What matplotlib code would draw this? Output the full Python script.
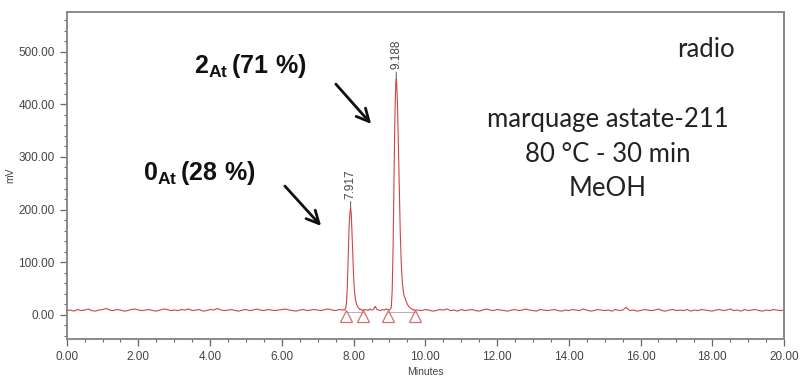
import numpy as np
import matplotlib
matplotlib.use("Agg")
import matplotlib.pyplot as plt
from matplotlib.ticker import MultipleLocator, FormatStrFormatter

# ---- chromatogram data (minutes, mV) ----
# baseline before the first peak, sampled every 0.1 min from 0.0 to 7.7
base_left = [8, 9, 7, 10, 8, 9, 11, 8, 7, 9, 10, 12, 9, 8, 10, 9, 7, 8, 10, 11,
             9, 8, 9, 10, 8, 7, 9, 11, 10, 8, 9, 8, 10, 9, 11, 8, 9, 10, 7, 8,
             10, 9, 12, 9, 8, 9, 10, 8, 7, 9, 10, 8, 9, 11, 9, 8, 10, 9, 8, 9,
             10, 11, 9, 8, 7, 9, 10, 8, 9, 10, 9, 8, 10, 11, 9, 8, 10, 9]

# first peak (7.917 min)
peak1_t = [7.725, 7.75, 7.775, 7.80, 7.825, 7.85, 7.875, 7.90, 7.917, 7.935,
           7.95, 7.975, 8.00, 8.025, 8.05, 8.075, 8.10, 8.125, 8.15, 8.175,
           8.20, 8.225, 8.25, 8.275]
peak1_v = [10, 9, 12, 22, 55, 115, 170, 196, 202, 192,
           165, 115, 72, 44, 30, 22, 17, 14, 12, 10,
           11, 9, 8, 10]

# between the two peaks, 8.30 .. 9.00 min
between_t = [8.30, 8.35, 8.40, 8.45, 8.50, 8.55, 8.60, 8.65, 8.70, 8.75, 8.80, 8.85, 8.90, 8.95, 9.00]
between_v = [9, 10, 8, 11, 9, 10, 16, 10, 9, 8, 10, 9, 11, 10, 9]

# second peak (9.188 min)
peak2_t = [9.025, 9.05, 9.075, 9.10, 9.125, 9.15, 9.175, 9.188, 9.20, 9.225,
           9.25, 9.275, 9.30, 9.325, 9.35, 9.375, 9.40, 9.425, 9.45, 9.475,
           9.50, 9.525, 9.55, 9.575, 9.60, 9.625, 9.65, 9.675, 9.70, 9.725, 9.75]
peak2_v = [11, 14, 45, 125, 255, 375, 440, 448, 442, 395,
           315, 228, 158, 104, 70, 50, 38, 33, 28, 24,
           20, 17, 15, 13, 12, 11, 10, 9, 10, 8, 9]

# baseline after the second peak, sampled every 0.1 min from 9.8 to 20.0
base_right = [9, 8, 10, 9, 7, 8, 10, 9, 11, 8, 9, 7, 10, 8, 9, 10, 8, 7, 9, 11,
              9, 8, 10, 9, 8, 7, 9, 10, 8, 9, 11, 9, 8, 7, 10, 9, 8, 9, 10, 8,
              7, 9, 8, 10, 9, 8, 11, 9, 7, 8, 10, 9, 8, 9, 7, 10, 8, 9, 14, 8,
              9, 7, 8, 10, 9, 8, 9, 11, 8, 7, 9, 10, 8, 9, 8, 10, 7, 9, 8, 10,
              9, 8, 7, 9, 10, 8, 9, 11, 8, 9, 7, 10, 8, 9, 10, 8, 7, 9, 8, 10,
              9, 8, 9]

peak_times = [7.917, 9.188]
peak_heights = [202, 448]
integration_marks = [7.78, 8.27, 8.97, 9.71]

t_all = np.concatenate([np.linspace(0.0, 7.7, len(base_left)), peak1_t, between_t,
                        peak2_t, np.linspace(9.8, 20.0, len(base_right))])
v_all = np.concatenate([base_left, peak1_v, between_v, peak2_v, base_right])

# ---- figure ----
W, H = 800, 376
fig = plt.figure(figsize=(W / 100, H / 100), dpi=100)
ax = fig.add_axes([66.7 / W, 1 - 339 / H, (784 - 66.7) / W, (339 - 11.7) / H])

trace = "#d04545"
ax.plot(t_all, v_all, color=trace, lw=0.8)

# integration baselines and markers
for a, b in [(integration_marks[0], integration_marks[1]),
             (integration_marks[2], integration_marks[3])]:
    ax.plot([a, b], [5, 5], color="#b0a0a0", lw=0.6)
ax.plot(integration_marks, [-3] * len(integration_marks), ls="none", marker="^",
        ms=8, mfc="none", mec="#d07070", mew=0.9)

# retention time labels
for t, h in zip(peak_times, peak_heights):
    ax.annotate(f"{t:.3f}", xy=(t, h), xytext=(0, 7), textcoords="offset points",
                rotation=90, ha="center", va="bottom", fontsize=8.5,
                family="Liberation Sans", color="#444444",
                arrowprops=dict(arrowstyle="-", color="#555555", lw=0.7,
                                shrinkA=0, shrinkB=0))

ax.set_xlim(0, 20)
ax.set_ylim(-46, 576)
ax.xaxis.set_major_locator(MultipleLocator(2))
ax.xaxis.set_minor_locator(MultipleLocator(0.5))
ax.yaxis.set_major_locator(MultipleLocator(100))
ax.yaxis.set_minor_locator(MultipleLocator(20))
ax.xaxis.set_major_formatter(FormatStrFormatter("%.2f"))
ax.yaxis.set_major_formatter(FormatStrFormatter("%.2f"))

for s in ax.spines.values():
    s.set_color("#8a8a8a")
    s.set_linewidth(1.4)
ax.tick_params(which="both", direction="out", colors="#666666", labelcolor="#444444")
ax.tick_params(which="major", length=5, width=0.9, labelsize=8.5)
ax.tick_params(which="minor", length=2.5, width=0.8)
for lab in ax.get_xticklabels() + ax.get_yticklabels():
    lab.set_family("Liberation Sans")

ax.set_xlabel("Minutes", fontsize=7.5, family="Liberation Sans", color="#444444", labelpad=3)
ax.set_ylabel("mV", fontsize=7.5, family="Liberation Sans", color="#444444", labelpad=2)

# ---- annotations ----
plt.rcParams["mathtext.fontset"] = "custom"
plt.rcParams["mathtext.rm"] = "Liberation Sans"
plt.rcParams["mathtext.bf"] = "Liberation Sans:bold"

fig.text(194 / W, 1 - 73 / H, r"$\mathbf{2_{At}\,(71\ \%)}$", fontsize=18,
         ha="left", va="baseline", color="#111111")
fig.text(143 / W, 1 - 180 / H, r"$\mathbf{0_{At}\,(28\ \%)}$", fontsize=18,
         ha="left", va="baseline", color="#111111")

arrow = dict(arrowstyle="->,head_length=0.9,head_width=0.45", color="#111111", lw=2)
fig.add_artist(plt.Annotation("", xy=(373, H - 126), xytext=(334, H - 82),
                              xycoords="figure pixels", textcoords="figure pixels",
                              arrowprops=arrow))
fig.add_artist(plt.Annotation("", xy=(323, H - 228), xytext=(283, H - 184),
                              xycoords="figure pixels", textcoords="figure pixels",
                              arrowprops=arrow))

txt = dict(family="Lato", fontsize=18.5, color="#222222", ha="center", va="baseline")
fig.text(706 / W, 1 - 57 / H, "radio", **txt)
fig.text(608 / W, 1 - 127 / H, "marquage astate-211", **txt)
fig.text(608 / W, 1 - 162 / H, "80 °C - 30 min", **txt)
fig.text(608 / W, 1 - 196 / H, "MeOH", **txt)

fig.savefig("out.png", dpi=100)
